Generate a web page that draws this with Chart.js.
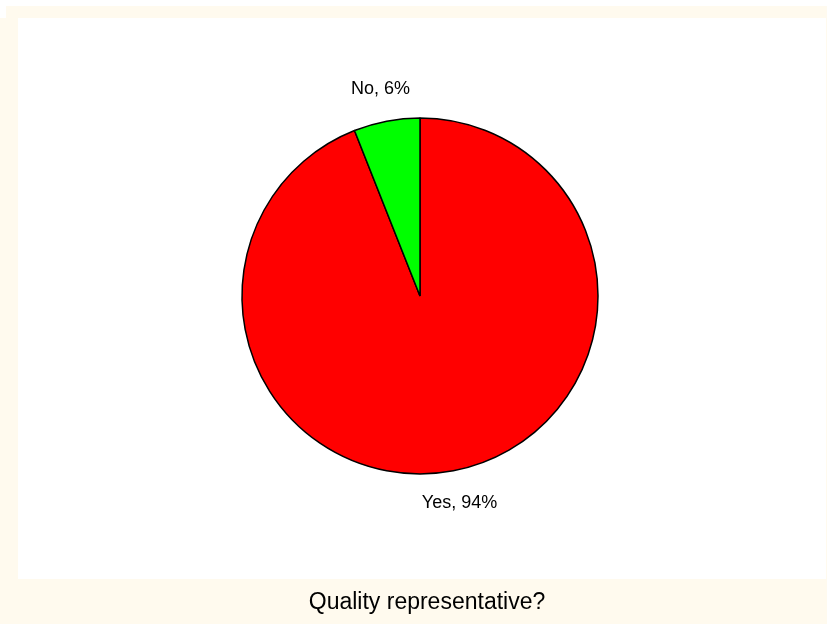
<!DOCTYPE html>
<html>
<head>
<meta charset="utf-8">
<style>
  html, body { margin: 0; padding: 0; background: #FFFAEE; }
  #wrap { position: absolute; left: 0; top: 0; width: 827px; height: 624px; }
</style>
<script src="https://cdn.jsdelivr.net/npm/chart.js@4/dist/chart.umd.min.js"></script>
</head>
<body>
<div id="wrap"><canvas id="c" width="827" height="624"></canvas></div>
<script>
const categories = ['Yes', 'No'];
const percentages = [94, 6];
const sliceColors = ['#FF0000', '#00FF00'];
const chartTitle = 'Quality representative?';

const FONT = '"Liberation Sans", Arial, sans-serif';

// Cream frame with a white plotting panel behind the pie
const framePlugin = {
  id: 'frame',
  beforeDraw(chart) {
    const ctx = chart.ctx;
    ctx.save();
    ctx.fillStyle = '#FFFAEE';
    ctx.fillRect(0, 0, chart.width, chart.height);
    ctx.fillStyle = '#FFFFFF';
    ctx.fillRect(0, 0, chart.width, 6);
    ctx.fillRect(0, 0, 6, 18);
    ctx.fillRect(18, 18, 808, 561);
    ctx.restore();
  }
};

// Caption in the cream strip under the panel
const captionPlugin = {
  id: 'caption',
  afterDraw(chart) {
    const ctx = chart.ctx;
    ctx.save();
    ctx.font = '23px ' + FONT;
    ctx.fillStyle = '#000000';
    ctx.textAlign = 'center';
    ctx.textBaseline = 'middle';
    ctx.fillText(chartTitle, 427, 603);
    ctx.restore();
  }
};

// "Category, value%" labels placed just outside each slice, on its mid angle
const sliceLabels = {
  id: 'sliceLabels',
  afterDatasetsDraw(chart) {
    const ctx = chart.ctx;
    const meta = chart.getDatasetMeta(0);
    ctx.save();
    ctx.font = '18px ' + FONT;
    ctx.fillStyle = '#000000';
    ctx.textAlign = 'center';
    ctx.textBaseline = 'middle';
    meta.data.forEach((arc, i) => {
      const p = arc.getProps(['x', 'y', 'startAngle', 'endAngle', 'outerRadius'], true);
      const mid = (p.startAngle + p.endAngle) / 2;
      const r = p.outerRadius + 33;
      ctx.fillText(categories[i] + ', ' + percentages[i] + '%',
        p.x + Math.cos(mid) * r, p.y + Math.sin(mid) * r);
    });
    ctx.restore();
  }
};

new Chart(document.getElementById('c'), {
  type: 'pie',
  data: {
    labels: categories,
    datasets: [{
      data: percentages,
      backgroundColor: sliceColors,
      borderColor: '#000000',
      borderWidth: 1.5,
      radius: 178
    }]
  },
  options: {
    responsive: false,
    animation: false,
    rotation: 0,
    layout: { padding: { left: 13, right: 0, top: 0, bottom: 32 } },
    plugins: {
      legend: { display: false },
      tooltip: { enabled: false },
      title: { display: false }
    }
  },
  plugins: [framePlugin, sliceLabels, captionPlugin]
});
</script>
</body>
</html>
